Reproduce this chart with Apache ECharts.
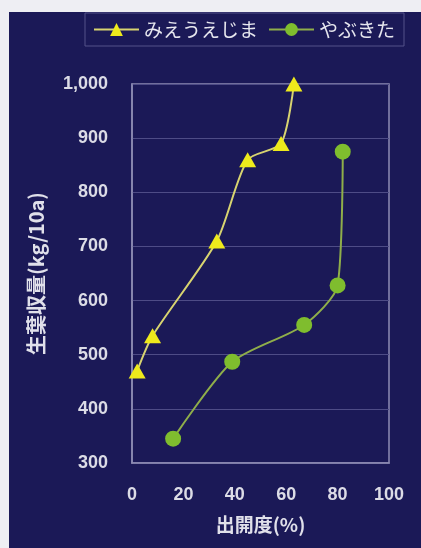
<!DOCTYPE html>
<html>
<head>
<meta charset="utf-8">
<script src="https://cdn.jsdelivr.net/npm/echarts@6/dist/echarts.min.js"></script>
<style>
html,body{margin:0;padding:0;background:#eeeef3;width:421px;height:548px;overflow:hidden;}
#panel{position:absolute;left:9px;top:12px;width:412px;height:536px;background:#1b1957;}
#chart{width:412px;height:536px;}
</style>
</head>
<body>
<div id="panel"><div id="chart"></div></div>
<script>
// Data
const seriesNames = ['みえうえじま', 'やぶきた'];
const mieX = [2, 8, 33, 45, 58, 63];
const mieY = [470, 535, 710, 860, 890, 1000];
const yabuX = [16, 39, 67, 80, 82];
const yabuY = [345, 487, 555, 628, 875];
const xTicks = [0, 20, 40, 60, 80, 100];
const yTicks = [300, 400, 500, 600, 700, 800, 900, 1000];
const xName = '出開度(%)';
const yName = '生葉収量(kg/10a)';

const pairs = (xs, ys) => xs.map((x, i) => [x, ys[i]]);
const latin = '"Liberation Sans", Arial, sans-serif';
const cjk = '"Noto Sans CJK JP", "Liberation Sans", sans-serif';

const chart = echarts.init(document.getElementById('chart'), null, {renderer: 'canvas'});
chart.setOption({
  animation: false,
  backgroundColor: '#1b1957',
  legend: {
    left: 76, top: 1,
    padding: [7, 9, 7, 8],
    borderColor: '#55538a', borderWidth: 1,
    itemWidth: 45, itemHeight: 16, itemGap: 10,
    textStyle: {color: '#e6e6ee', fontSize: 19, fontFamily: cjk, padding: [0, 0, 0, 0]},
    data: seriesNames
  },
  grid: {
    left: 123, top: 72, right: 32, bottom: 85,
    show: true, borderColor: '#8e8cb4', borderWidth: 1.5
  },
  xAxis: {
    type: 'value', min: xTicks[0], max: xTicks[xTicks.length - 1], interval: 20,
    name: xName, nameLocation: 'middle', nameGap: 52,
    nameTextStyle: {color: '#e0e0ea', fontSize: 19, fontFamily: cjk, fontWeight: 'bold'},
    axisLine: {show: true, lineStyle: {color: '#8e8cb4', width: 1.5}},
    axisTick: {show: false},
    splitLine: {show: false},
    axisLabel: {color: '#dcdce6', fontSize: 18, fontFamily: latin, fontWeight: 'bold', margin: 23}
  },
  yAxis: {
    type: 'value', min: yTicks[0], max: yTicks[yTicks.length - 1], interval: 100,
    name: yName, nameLocation: 'middle', nameGap: 86, nameRotate: 90,
    nameTextStyle: {color: '#e0e0ea', fontSize: 20, fontFamily: cjk, fontWeight: 'bold'},
    axisLine: {show: true, lineStyle: {color: '#8e8cb4', width: 1.5}},
    axisTick: {show: false},
    splitLine: {show: true, lineStyle: {color: '#4e4c86', width: 1.2}},
    axisLabel: {
      color: '#dcdce6', fontSize: 18, fontFamily: latin, fontWeight: 'bold', margin: 24,
      formatter: v => v.toLocaleString('en-US')
    }
  },
  series: [
    {
      name: seriesNames[0], type: 'line', smooth: 0.25,
      data: pairs(mieX, mieY),
      symbol: 'triangle', symbolSize: [17, 15],
      lineStyle: {color: '#d8d470', width: 2},
      itemStyle: {color: '#eeea1c'}
    },
    {
      name: seriesNames[1], type: 'line', smooth: 0.25,
      data: pairs(yabuX, yabuY),
      symbol: 'circle', symbolSize: 16,
      lineStyle: {color: '#8fae4a', width: 2},
      itemStyle: {color: '#7fbd2e'}
    }
  ]
});
</script>
</body>
</html>
